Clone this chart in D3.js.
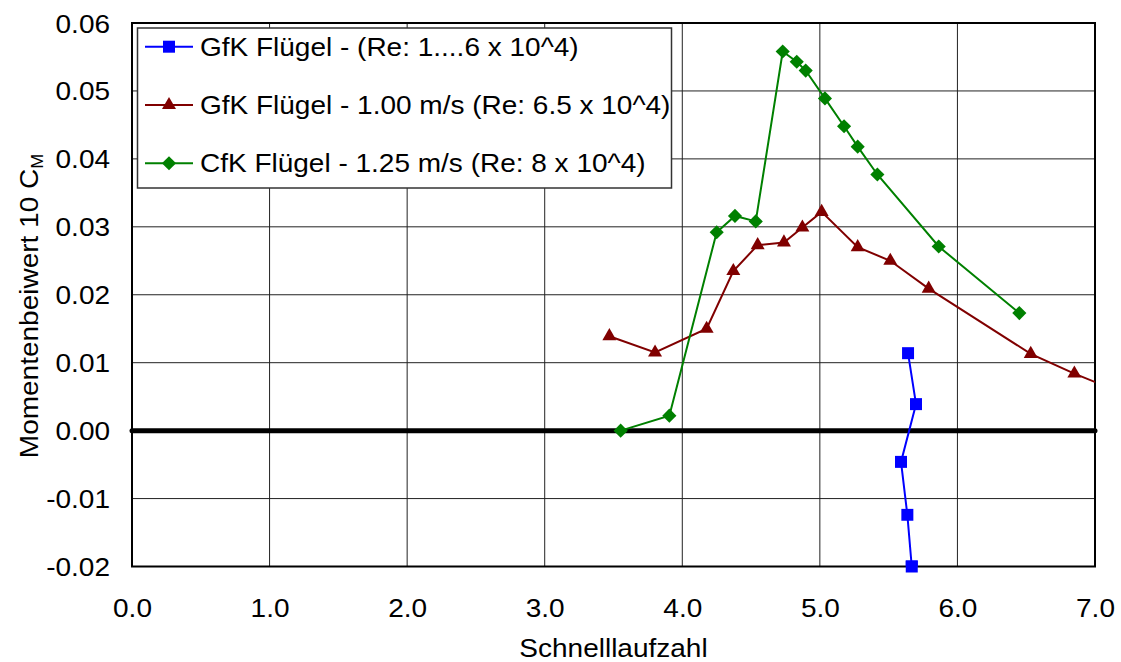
<!DOCTYPE html>
<html>
<head>
<meta charset="utf-8">
<script src="https://cdn.jsdelivr.net/npm/d3@7"></script>
<style>
  html, body { margin: 0; padding: 0; background: #fff; }
  svg { display: block; font-family: "Liberation Sans", Arial, sans-serif; }
</style>
</head>
<body>
<svg id="chart" width="1121" height="662"></svg>
<script>
// Tip speed ratio (Schnelllaufzahl) vs. moment coefficient for three wing variants
const xTicks = [0, 1, 2, 3, 4, 5, 6, 7];
const yTicks = [-0.02, -0.01, 0.00, 0.01, 0.02, 0.03, 0.04, 0.05, 0.06];

const seriesNames = [
  "GfK Flügel - (Re: 1....6 x 10^4)",
  "GfK Flügel - 1.00 m/s (Re: 6.5 x 10^4)",
  "CfK Flügel - 1.25 m/s (Re: 8 x 10^4)"
];

// GfK wing, varying Re
const gfkX = [5.641, 5.699, 5.590, 5.636, 5.668];
const gfkY = [0.0114, 0.0039, -0.0046, -0.0124, -0.0200];

// GfK wing at 1.00 m/s
const gfk100X = [3.470, 3.802, 4.177, 4.371, 4.548, 4.739, 4.873, 5.013, 5.275, 5.512, 5.791, 6.533, 6.850, 7.200];
const gfk100Y = [0.0139, 0.0115, 0.0150, 0.0235, 0.0273, 0.0277, 0.0299, 0.0322, 0.0270, 0.0250, 0.0209, 0.0113, 0.0084, 0.0055];

// CfK wing at 1.25 m/s
const cfkX = [3.552, 3.906, 4.250, 4.383, 4.534, 4.730, 4.832, 4.897, 5.037, 5.176, 5.275, 5.418, 5.864, 6.450];
const cfkY = [0.0000, 0.0022, 0.0292, 0.0316, 0.0308, 0.0558, 0.0543, 0.0530, 0.0489, 0.0448, 0.0418, 0.0377, 0.0271, 0.0173];

const colors = ["#0000ff", "#800000", "#008000"];
const markers = ["square", "triangle", "diamond"];

const FONT = 25, SX = 1.12;

const svg = d3.select("#chart");
const x = d3.scaleLinear().domain([0, 7]).range([132, 1095]);
const y = d3.scaleLinear().domain([-0.02, 0.06]).range([566.5, 23]);

// widen glyphs horizontally around their anchor
function widen(sel) {
  sel.each(function () {
    const t = d3.select(this);
    const ax = +t.attr("x") || 0, ay = +t.attr("y") || 0;
    t.attr("transform", `translate(${ax},${ay}) scale(${SX},1) translate(${-ax},${-ay})`);
  });
}

svg.append("defs").append("clipPath").attr("id", "plotClip")
  .append("rect").attr("x", x(0)).attr("y", y(0.06))
  .attr("width", x(7) - x(0)).attr("height", y(-0.02) - y(0.06));

// grid
const grid = svg.append("g").attr("stroke", "#222").attr("stroke-width", 1);
grid.selectAll("line.h").data(yTicks).join("line").attr("class", "h")
  .attr("x1", x(0)).attr("x2", x(7)).attr("y1", d => y(d)).attr("y2", d => y(d));
grid.selectAll("line.v").data(xTicks).join("line").attr("class", "v")
  .attr("x1", d => x(d)).attr("x2", d => x(d)).attr("y1", y(0.06)).attr("y2", y(-0.02));

// plot frame
svg.append("rect")
  .attr("x", x(0)).attr("y", y(0.06))
  .attr("width", x(7) - x(0)).attr("height", y(-0.02) - y(0.06))
  .attr("fill", "none").attr("stroke", "#000").attr("stroke-width", 2);

// zero line
svg.append("line")
  .attr("x1", x(0)).attr("x2", x(7)).attr("y1", y(0)).attr("y2", y(0))
  .attr("stroke", "#000").attr("stroke-width", 5).attr("stroke-linecap", "round");

// axes labels
const fmtY = v => d3.format(".2f")(v).replace("\u2212", "-");
const yAxis = svg.append("g").attr("transform", `translate(${x(0)},0)`)
  .call(d3.axisLeft(y).tickValues(yTicks).tickFormat(fmtY).tickSize(0).tickPadding(22));
const xAxis = svg.append("g").attr("transform", `translate(0,${y(-0.02)})`)
  .call(d3.axisBottom(x).tickValues(xTicks).tickFormat(d3.format(".1f")).tickSize(0).tickPadding(32.7));
[yAxis, xAxis].forEach(a => {
  a.select(".domain").remove();
  a.selectAll("text").attr("font-size", FONT).attr("font-family", "Liberation Sans, Arial, sans-serif").attr("fill", "#000");
});
yAxis.selectAll("text").attr("dy", "0.36em");
widen(yAxis.selectAll("text"));
widen(xAxis.selectAll("text"));

// axis titles
const xt = svg.append("text").attr("x", (x(0) + x(7)) / 2).attr("y", 657)
  .attr("text-anchor", "middle").attr("font-size", FONT).text("Schnelllaufzahl");
widen(xt);

const yt = svg.append("text")
  .attr("transform", `translate(38,306) rotate(-90) scale(${SX},1)`)
  .attr("text-anchor", "middle").attr("font-size", FONT);
yt.append("tspan").text("Momentenbeiwert 10 C");
yt.append("tspan").attr("font-size", 16).attr("dy", 5).text("M");

// series
function markerPath(kind) {
  if (kind === "square") return d3.symbol(d3.symbolSquare, 144)();
  if (kind === "triangle") return d3.symbol(d3.symbolTriangle, 85)();
  return d3.symbol(d3.symbolSquare, 100)();
}
const series = [
  { xs: gfkX, ys: gfkY },
  { xs: gfk100X, ys: gfk100Y },
  { xs: cfkX, ys: cfkY }
];
const line = d3.line().x(d => x(d[0])).y(d => y(d[1]));
const plot = svg.append("g").attr("clip-path", "url(#plotClip)");
series.forEach((s, i) => {
  const pts = s.xs.map((v, k) => [v, s.ys[k]]);
  const g = plot.append("g");
  g.append("path").attr("d", line(pts)).attr("fill", "none")
    .attr("stroke", colors[i]).attr("stroke-width", 2);
  g.selectAll("path.m").data(pts).join("path").attr("class", "m")
    .attr("d", markerPath(markers[i]))
    .attr("transform", d => `translate(${x(d[0])},${y(d[1])})` + (markers[i] === "diamond" ? " rotate(45)" : ""))
    .attr("fill", colors[i]);
});
// the lowest marker of the first series sits on the frame and is drawn unclipped
svg.append("path").attr("d", markerPath("square"))
  .attr("transform", `translate(${x(gfkX[4])},${y(gfkY[4])})`).attr("fill", colors[0]);

// legend
const lg = svg.append("g");
lg.append("rect").attr("x", 137.5).attr("y", 28).attr("width", 534).attr("height", 160)
  .attr("fill", "#fff").attr("stroke", "#333").attr("stroke-width", 1.5);
const rowY = [46.7, 105, 163.3];
seriesNames.forEach((name, i) => {
  lg.append("line").attr("x1", 145).attr("x2", 193).attr("y1", rowY[i]).attr("y2", rowY[i])
    .attr("stroke", colors[i]).attr("stroke-width", 2);
  lg.append("path").attr("d", markerPath(markers[i]))
    .attr("transform", `translate(169,${rowY[i]})` + (markers[i] === "diamond" ? " rotate(45)" : ""))
    .attr("fill", colors[i]);
  const t = lg.append("text").attr("x", 200).attr("y", rowY[i] + 9)
    .attr("font-size", FONT).text(name);
  widen(t);
});
</script>
</body>
</html>
